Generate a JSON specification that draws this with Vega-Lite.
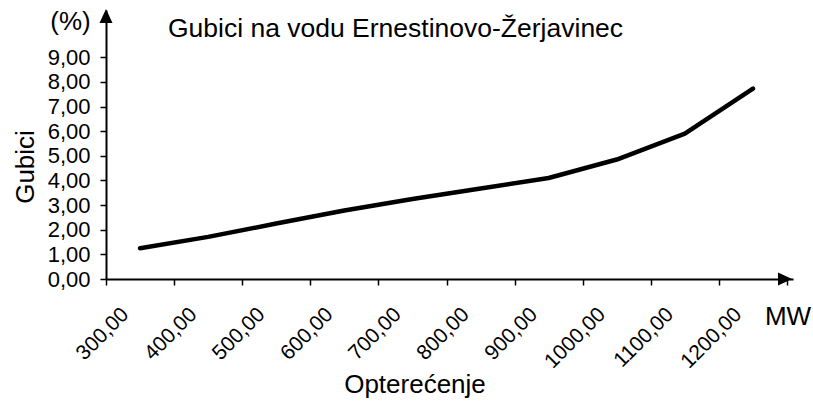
{
  "$schema": "https://vega.github.io/schema/vega-lite/v6.json",
  "width": 687,
  "height": 269,
  "autosize": {"type": "none"},
  "padding": {"left": 106, "top": 10, "right": 20, "bottom": 124},
  "background": "white",
  "config": {
    "view": {"stroke": null},
    "font": "Liberation Sans",
    "axis": {
      "grid": false,
      "domainColor": "black",
      "tickColor": "black",
      "labelColor": "black",
      "titleColor": "black",
      "labelFont": "Liberation Sans",
      "titleFont": "Liberation Sans",
      "labelFontWeight": "normal",
      "titleFontWeight": "normal",
      "domainWidth": 2,
      "tickWidth": 1.5
    },
    "text": {"font": "Liberation Sans", "color": "black"}
  },
  "data": {
    "values": [
      {"Opterecenje": 300, "Gubici": 1.25},
      {"Opterecenje": 400, "Gubici": 1.71},
      {"Opterecenje": 500, "Gubici": 2.25},
      {"Opterecenje": 600, "Gubici": 2.78},
      {"Opterecenje": 700, "Gubici": 3.25},
      {"Opterecenje": 800, "Gubici": 3.67},
      {"Opterecenje": 900, "Gubici": 4.10},
      {"Opterecenje": 1000, "Gubici": 4.85},
      {"Opterecenje": 1100, "Gubici": 5.90},
      {"Opterecenje": 1200, "Gubici": 7.73}
    ]
  },
  "layer": [
    {
      "mark": {"type": "line", "color": "black", "strokeWidth": 4.5, "strokeCap": "round", "strokeJoin": "round"},
      "encoding": {
        "x": {
          "field": "Opterecenje",
          "type": "ordinal",
          "bandPosition": 0.5,
          "scale": {"type": "band", "paddingInner": 0, "paddingOuter": 0.044, "align": 0},
          "axis": {
            "tickBand": "extent",
            "labelExpr": "isNumber(datum.value) && !isNaN(datum.value) ? replace(format(datum.value, '.2f'), '.', ',') : ''",
            "labelAngle": -45,
            "labelAlign": "right",
            "labelBaseline": "middle",
            "labelOffset": -15,
            "labelPadding": 26,
            "labelOverlap": false,
            "labelFlush": false,
            "labelFontSize": 21,
            "tickSize": 6,
            "title": "Opterećenje",
            "titleFontSize": 26,
            "titleX": 308.5,
            "titleY": 113,
            "titleAlign": "center",
            "titleBaseline": "alphabetic",
            "titleAngle": 0
          }
        },
        "y": {
          "field": "Gubici",
          "type": "quantitative",
          "scale": {"domain": [0, 10.92], "nice": false, "zero": true},
          "axis": {
            "values": [0, 1, 2, 3, 4, 5, 6, 7, 8, 9],
            "labelExpr": "replace(format(datum.value, '.2f'), '.', ',')",
            "labelOverlap": false,
            "labelFlush": false,
            "tickSize": 6,
            "labelPadding": 10,
            "labelFontSize": 22,
            "title": "Gubici",
            "titleFontSize": 26,
            "titleAngle": -90,
            "titleX": -73,
            "titleY": 156.5,
            "titleAlign": "center",
            "titleBaseline": "alphabetic"
          }
        }
      }
    },
    {
      "data": {"values": [{}]},
      "mark": {"type": "point", "shape": "M0,-1L-0.93,1L0.93,1Z", "filled": true, "color": "black", "opacity": 1, "size": 196},
      "encoding": {
        "x": {"datum": 0, "type": "quantitative", "scale": {"domain": [0, 1], "nice": false, "zero": false}, "axis": null},
        "y": {"datum": 0.9777, "type": "quantitative", "scale": {"domain": [0, 1], "nice": false, "zero": false}, "axis": null}
      }
    },
    {
      "data": {"values": [{}]},
      "mark": {"type": "point", "shape": "M1,0L-1,-0.93L-1,0.93Z", "filled": true, "color": "black", "opacity": 1, "size": 196},
      "encoding": {
        "x": {"datum": 0.9884, "type": "quantitative", "scale": {"domain": [0, 1], "nice": false, "zero": false}, "axis": null},
        "y": {"datum": 0, "type": "quantitative", "scale": {"domain": [0, 1], "nice": false, "zero": false}, "axis": null}
      }
    },
    {
      "data": {"values": [{}]},
      "mark": {"type": "text", "text": "(%)", "fontSize": 26, "align": "center", "baseline": "alphabetic"},
      "encoding": {
        "x": {"datum": -0.0517, "type": "quantitative", "scale": {"domain": [0, 1], "nice": false, "zero": false}, "axis": null},
        "y": {"datum": 0.9257, "type": "quantitative", "scale": {"domain": [0, 1], "nice": false, "zero": false}, "axis": null}
      }
    },
    {
      "data": {"values": [{}]},
      "mark": {"type": "text", "text": "MW", "fontSize": 26, "align": "center", "baseline": "alphabetic"},
      "encoding": {
        "x": {"datum": 0.9927, "type": "quantitative", "scale": {"domain": [0, 1], "nice": false, "zero": false}, "axis": null},
        "y": {"datum": -0.171, "type": "quantitative", "scale": {"domain": [0, 1], "nice": false, "zero": false}, "axis": null}
      }
    },
    {
      "data": {"values": [{}]},
      "mark": {"type": "text", "text": "Gubici na vodu Ernestinovo-Žerjavinec", "fontSize": 26.5, "align": "left", "baseline": "alphabetic"},
      "encoding": {
        "x": {"datum": 0.0902, "type": "quantitative", "scale": {"domain": [0, 1], "nice": false, "zero": false}, "axis": null},
        "y": {"datum": 0.8985, "type": "quantitative", "scale": {"domain": [0, 1], "nice": false, "zero": false}, "axis": null}
      }
    }
  ],
  "resolve": {"scale": {"x": "independent", "y": "independent"}, "axis": {"x": "independent", "y": "independent"}}
}
